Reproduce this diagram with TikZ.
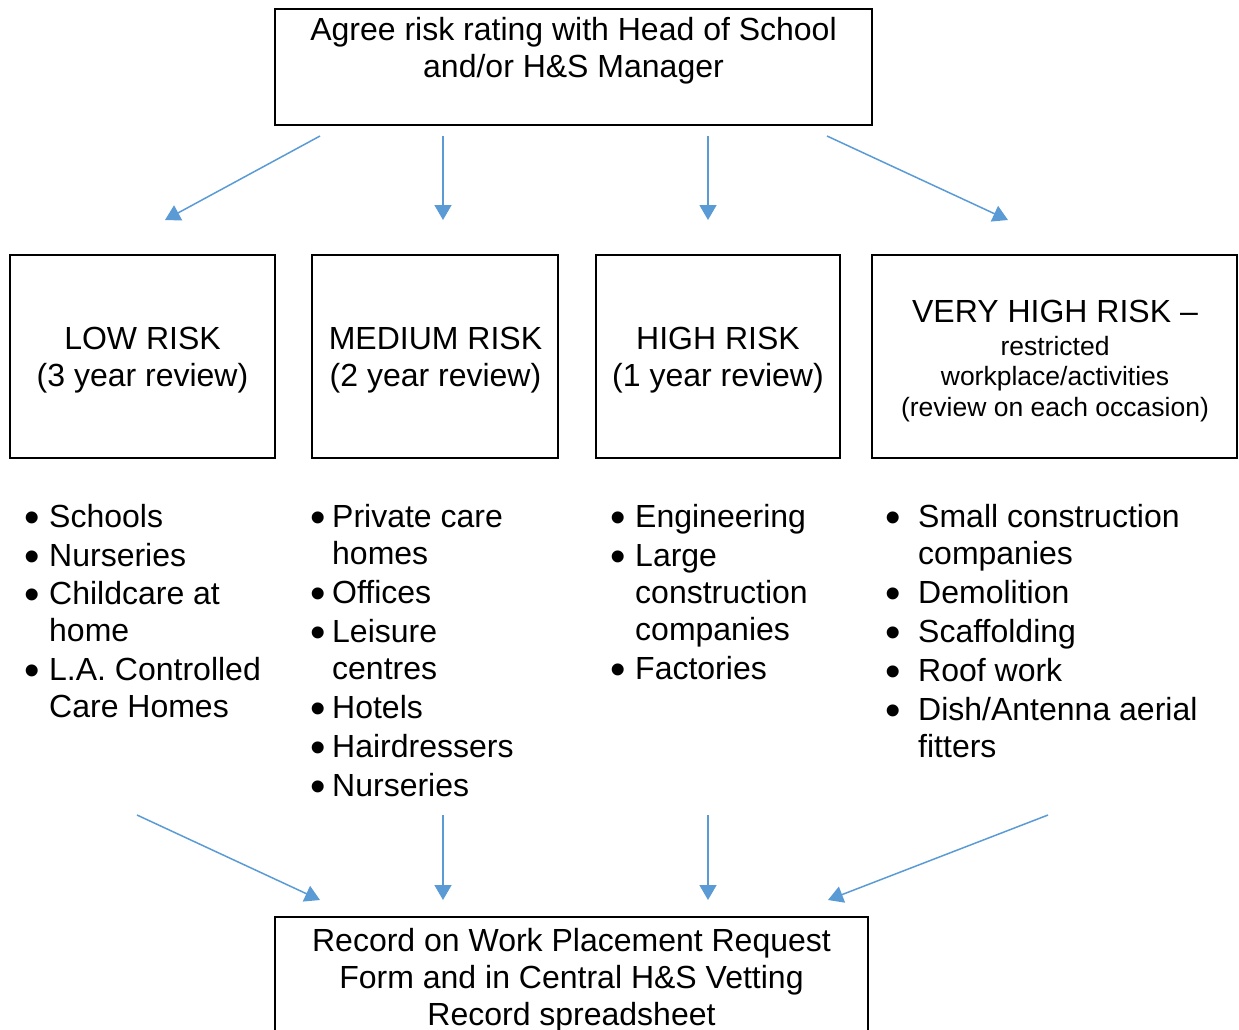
\documentclass[tikz,border=0pt]{standalone}
\usepackage{fontspec}
\setmainfont{Liberation Sans}
\usetikzlibrary{arrows.meta}
\definecolor{arrowblue}{HTML}{5B9BD5}
\tikzset{
  box/.style={draw=black, line width=2pt, inner sep=0pt},
  arr/.style={draw=arrowblue, line width=1.5pt, -{Triangle[length=15pt,width=17pt]}},
  big/.style={font=\fontsize{32}{37}\selectfont, inner sep=0pt},
  small/.style={font=\fontsize{26.5}{30.5}\selectfont, inner sep=0pt},
  ctr/.style={big, anchor=base},
  sctr/.style={small, anchor=base},
  itm/.style={big, anchor=base west},
  bul/.style={font=\fontsize{44}{44}\selectfont, inner sep=0pt, anchor=base, yshift=-5.5pt},
}
\begin{document}
\begin{tikzpicture}[x=1pt, y=-1pt]
\useasboundingbox (0,0) rectangle (1239,1029);

% top box
\node[box, minimum width=597pt, minimum height=116pt] (top) at (573.5,67) {};
\node[ctr] (top1) at (573.5,40) {Agree risk rating with Head of School};
\node[ctr] (top2) at (573.5,77) {and/or H\&S Manager};

% risk boxes
\node[box, minimum width=265pt, minimum height=203pt] (low) at (142.5,356.5) {};
\node[box, minimum width=246pt, minimum height=203pt] (med) at (435,356.5) {};
\node[box, minimum width=244pt, minimum height=203pt] (high) at (718,356.5) {};
\node[box, minimum width=365pt, minimum height=203pt] (vhigh) at (1054.5,356.5) {};

\node[ctr] (low1) at (142.5,349) {LOW RISK};
\node[ctr] (low2) at (142.5,386) {(3 year review)};
\node[ctr] (med1) at (435.5,349) {MEDIUM RISK};
\node[ctr] (med2) at (435.5,386) {(2 year review)};
\node[ctr] (high1) at (718,349) {HIGH RISK};
\node[ctr] (high2) at (718,386) {(1 year review)};
\node[ctr] (vh1) at (1055,322) {VERY HIGH RISK –};
\node[sctr] (vh2) at (1055,355) {restricted};
\node[sctr] (vh3) at (1055,385.5) {workplace/activities};
\node[sctr] (vh4) at (1055,416) {(review on each occasion)};

% bottom box
\node[box, minimum width=593pt, minimum height=128pt] (bot) at (571.5,981) {};
\node[ctr] (bot1) at (571.5,951) {Record on Work Placement Request};
\node[ctr] (bot2) at (571.5,988) {Form and in Central H\&S Vetting};
\node[ctr] (bot3) at (571.5,1025) {Record spreadsheet};

% LOW list
\node[bul] (lb1) at (32,527) {•};
\node[itm] (l1) at (49,527) {Schools};
\node[bul] (lb2) at (32,566) {•};
\node[itm] (l2) at (49,566) {Nurseries};
\node[bul] (lb3) at (32,604) {•};
\node[itm] (l3) at (49,604) {Childcare at};
\node[itm] (l3b) at (49,641) {home};
\node[bul] (lb4) at (32,680) {•};
\node[itm] (l4) at (49,680) {L.A. Controlled};
\node[itm] (l4b) at (49,717) {Care Homes};

% MEDIUM list
\node[bul] (mb1) at (318,527) {•};
\node[itm] (m1) at (332,527) {Private care};
\node[itm] (m1b) at (332,564) {homes};
\node[bul] (mb2) at (318,603) {•};
\node[itm] (m2) at (332,603) {Offices};
\node[bul] (mb3) at (318,642) {•};
\node[itm] (m3) at (332,642) {Leisure};
\node[itm] (m3b) at (332,679) {centres};
\node[bul] (mb4) at (318,718) {•};
\node[itm] (m4) at (332,718) {Hotels};
\node[bul] (mb5) at (318,757) {•};
\node[itm] (m5) at (332,757) {Hairdressers};
\node[bul] (mb6) at (318,796) {•};
\node[itm] (m6) at (332,796) {Nurseries};

% HIGH list
\node[bul] (hb1) at (618,527) {•};
\node[itm] (h1) at (635,527) {Engineering};
\node[bul] (hb2) at (618,566) {•};
\node[itm] (h2) at (635,566) {Large};
\node[itm] (h2b) at (635,603) {construction};
\node[itm] (h2c) at (635,640) {companies};
\node[bul] (hb3) at (618,679) {•};
\node[itm] (h3) at (635,679) {Factories};

% VERY HIGH list
\node[bul] (vb1) at (893,527) {•};
\node[itm] (v1) at (918,527) {Small construction};
\node[itm] (v1b) at (918,564) {companies};
\node[bul] (vb2) at (893,603) {•};
\node[itm] (v2) at (918,603) {Demolition};
\node[bul] (vb3) at (893,642) {•};
\node[itm] (v3) at (918,642) {Scaffolding};
\node[bul] (vb4) at (893,681) {•};
\node[itm] (v4) at (918,681) {Roof work};
\node[bul] (vb5) at (893,720) {•};
\node[itm] (v5) at (918,720) {Dish/Antenna aerial};
\node[itm] (v5b) at (918,757) {fitters};

% arrow end points
\coordinate (s1) at (320,136);  \coordinate (e1) at (165,220);
\coordinate (s2) at (443,136);  \coordinate (e2) at (443,220);
\coordinate (s3) at (708,136);  \coordinate (e3) at (708,220);
\coordinate (s4) at (827,136);  \coordinate (e4) at (1008,220);
\coordinate (s5) at (137,815);  \coordinate (e5) at (320,900);
\coordinate (s6) at (443,815);  \coordinate (e6) at (443,900);
\coordinate (s7) at (708,815);  \coordinate (e7) at (708,900);
\coordinate (s8) at (1048,815); \coordinate (e8) at (828,900);

\draw[arr] (s1) -- (e1);
\draw[arr] (s2) -- (e2);
\draw[arr] (s3) -- (e3);
\draw[arr] (s4) -- (e4);
\draw[arr] (s5) -- (e5);
\draw[arr] (s6) -- (e6);
\draw[arr] (s7) -- (e7);
\draw[arr] (s8) -- (e8);
\end{tikzpicture}
\end{document}
